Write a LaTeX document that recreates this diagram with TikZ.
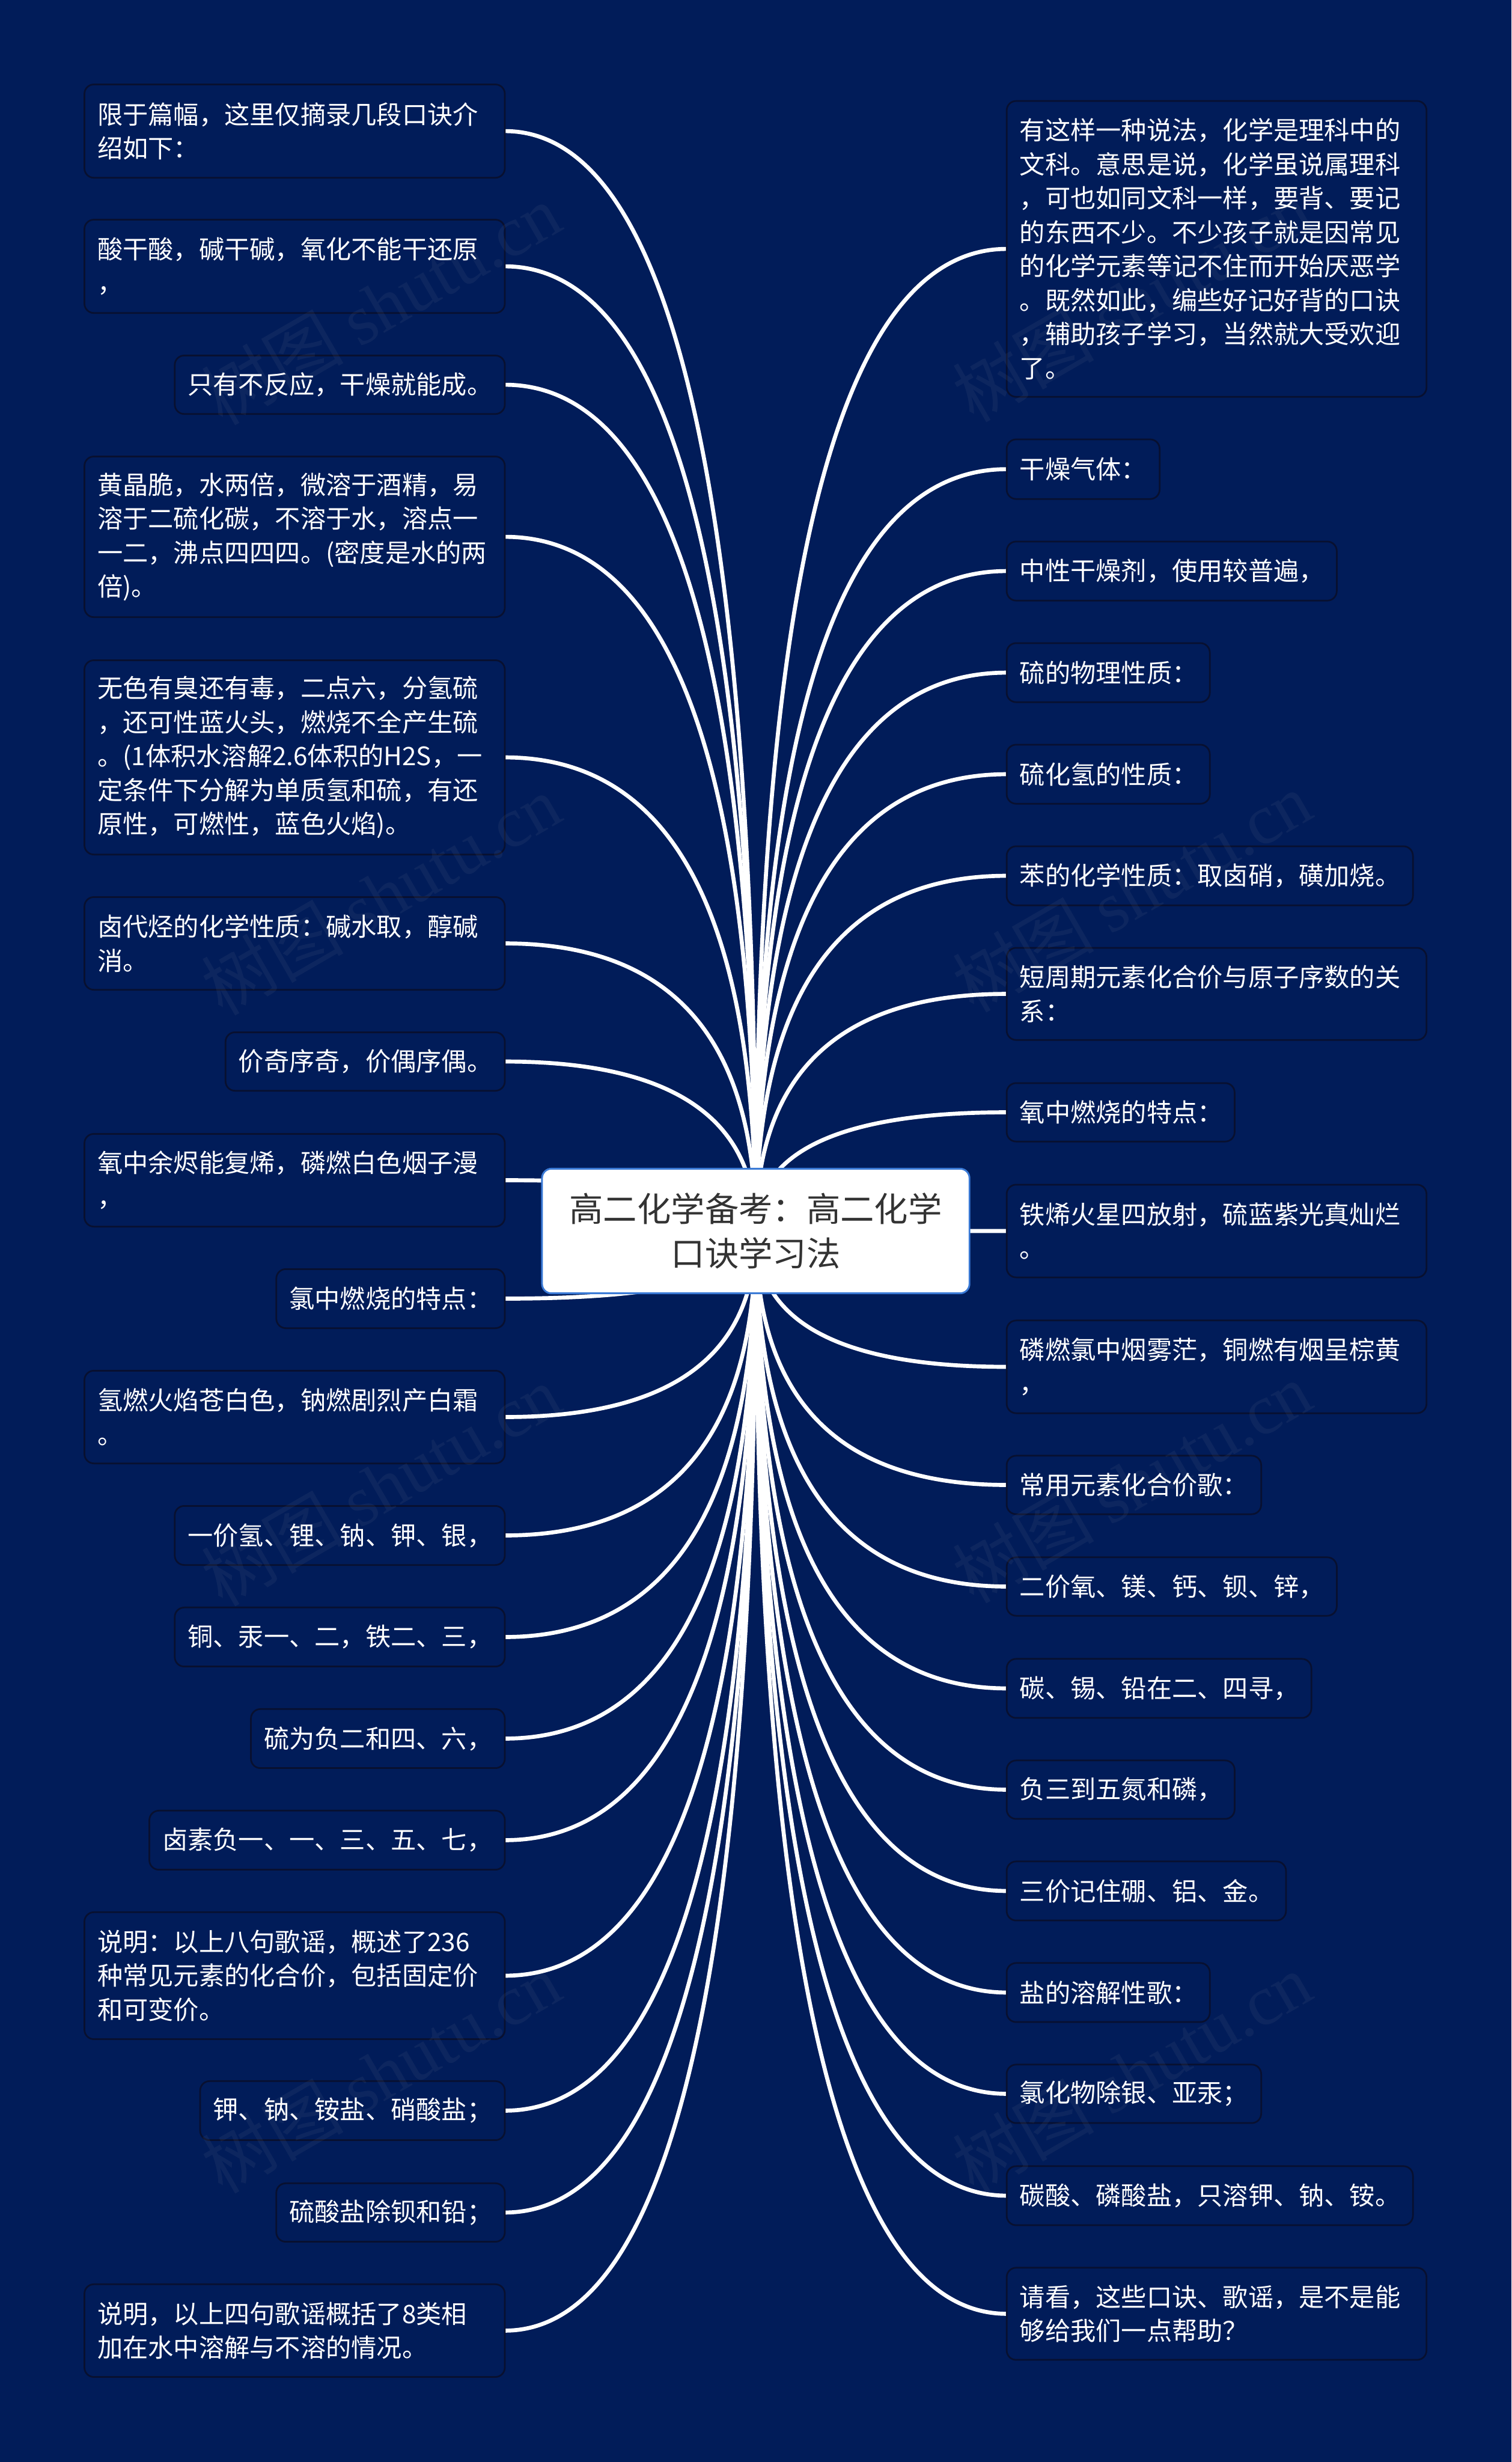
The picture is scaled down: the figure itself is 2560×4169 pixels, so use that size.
\documentclass[tikz,border=0pt]{standalone}
\usepackage{fontspec}
\setmainfont{Noto Sans CJK SC}
\newfontfamily\wmlatin{Liberation Serif}
\usetikzlibrary{calc,backgrounds}
\definecolor{bgblue}{HTML}{011C59}
\definecolor{edgedark}{HTML}{081030}
\definecolor{rootblue}{HTML}{3A7AD6}
\definecolor{roottext}{HTML}{333333}
\tikzset{
  leafbox/.style={draw=edgedark,line width=1.4pt,fill=bgblue,rounded corners=8pt,text=white,align=left,
    inner xsep=11pt,inner ysep=0pt,outer sep=0pt,font=\fontsize{21.5}{28.75}\selectfont},
  rootbox/.style={draw=rootblue,line width=1.5pt,fill=white,rounded corners=8pt,text=roottext,align=center,
    inner sep=0pt,outer sep=0pt,minimum width=362pt,minimum height=105.5pt,font=\fontsize{28.7}{37.5}\selectfont},
  conn/.style={draw=white,line width=3.4pt},
  mark text/.style={text=gray!50,opacity=.065,rotate=30,inner sep=0pt,font=\fontsize{60}{70}\selectfont}
}
\newcommand\leaf[6]{%
  \pgfmathsetlengthmacro\leafw{(#4-#2)*0.5pt-22pt}%
  \node[leafbox,text width=\leafw,minimum width={(#4-#2)*0.5pt},minimum height={(#5-#3)*0.5pt}]
    (#1) at ({(#2+#4)/2},{(#3+#5)/2}) {#6};}
\newcommand\linkroot[1]{%
  \draw[conn] (#1) .. controls ($(#1)!.667!(root |- #1)$) and ($(root.center)!.667!(root |- #1)$) .. (root.center);}
\begin{document}
\begin{tikzpicture}[x=0.5pt,y=-0.5pt]
\useasboundingbox (0,0) rectangle (2560,4169);
\node[rootbox] (root) at (1280,2084.5) {高二化学备考：高二化学\\口诀学习法};
% left column
\leaf{l1}{143}{143}{855}{301}{限于篇幅，这里仅摘录几段口诀介\\绍如下：}
\leaf{l2}{143}{372}{855}{530}{酸干酸，碱干碱，氧化不能干还原\\，}
\leaf{l3}{296}{602}{855}{701}{只有不反应，干燥就能成。}
\leaf{l4}{143}{773}{855}{1045}{黄晶脆，水两倍，微溶于酒精，易\\溶于二硫化碳，不溶于水，溶点一\\一二，沸点四四四。(密度是水的两\\倍)。}
\leaf{l5}{143}{1118}{855}{1447}{无色有臭还有毒，二点六，分氢硫\\，还可性蓝火头，燃烧不全产生硫\\。(1体积水溶解2.6体积的H2S，一\\定条件下分解为单质氢和硫，有还\\原性，可燃性，蓝色火焰)。}
\leaf{l6}{143}{1519}{855}{1676}{卤代烃的化学性质：碱水取，醇碱\\消。}
\leaf{l7}{382}{1748}{855}{1847}{价奇序奇，价偶序偶。}
\leaf{l8}{143}{1920}{855}{2077}{氧中余烬能复烯，磷燃白色烟子漫\\，}
\leaf{l9}{468}{2149}{855}{2249}{氯中燃烧的特点：}
\leaf{l10}{143}{2321}{855}{2478}{氢燃火焰苍白色，钠燃剧烈产白霜\\。}
\leaf{l11}{296}{2550}{855}{2650}{一价氢、锂、钠、钾、银，}
\leaf{l12}{296}{2722}{855}{2822}{铜、汞一、二，铁二、三，}
\leaf{l13}{425}{2894}{855}{2994}{硫为负二和四、六，}
\leaf{l14}{253}{3066}{855}{3166}{卤素负一、一、三、五、七，}
\leaf{l15}{143}{3238}{855}{3453}{说明：以上八句歌谣，概述了236\\种常见元素的化合价，包括固定价\\和可变价。}
\leaf{l16}{339}{3524}{855}{3624}{钾、钠、铵盐、硝酸盐；}
\leaf{l17}{468}{3697}{855}{3796}{硫酸盐除钡和铅；}
\leaf{l18}{143}{3868}{855}{4025}{说明，以上四句歌谣概括了8类相\\加在水中溶解与不溶的情况。}
% right column
\leaf{r1}{1705}{171}{2416}{672}{有这样一种说法，化学是理科中的\\文科。意思是说，化学虽说属理科\\，可也如同文科一样，要背、要记\\的东西不少。不少孩子就是因常见\\的化学元素等记不住而开始厌恶学\\。既然如此，编些好记好背的口诀\\，辅助孩子学习，当然就大受欢迎\\了。}
\leaf{r2}{1705}{744}{1964}{845}{干燥气体：}
\leaf{r3}{1705}{917}{2264}{1017}{中性干燥剂，使用较普遍，}
\leaf{r4}{1705}{1089}{2049}{1189}{硫的物理性质：}
\leaf{r5}{1705}{1261}{2049}{1361}{硫化氢的性质：}
\leaf{r6}{1705}{1433}{2393}{1533}{苯的化学性质：取卤硝，磺加烧。}
\leaf{r7}{1705}{1605}{2416}{1761}{短周期元素化合价与原子序数的关\\系：}
\leaf{r8}{1705}{1834}{2091}{1933}{氧中燃烧的特点：}
\leaf{r9}{1705}{2006}{2416}{2163}{铁烯火星四放射，硫蓝紫光真灿烂\\。}
\leaf{r10}{1705}{2236}{2416}{2393}{磷燃氯中烟雾茫，铜燃有烟呈棕黄\\，}
\leaf{r11}{1705}{2465}{2136}{2564}{常用元素化合价歌：}
\leaf{r12}{1705}{2637}{2264}{2736}{二价氧、镁、钙、钡、锌，}
\leaf{r13}{1705}{2809}{2221}{2909}{碳、锡、铅在二、四寻，}
\leaf{r14}{1705}{2981}{2091}{3080}{负三到五氮和磷，}
\leaf{r15}{1705}{3152}{2178}{3252}{三价记住硼、铝、金。}
\leaf{r16}{1705}{3324}{2049}{3424}{盐的溶解性歌：}
\leaf{r17}{1705}{3496}{2136}{3595}{氯化物除银、亚汞；}
\leaf{r18}{1705}{3668}{2393}{3768}{碳酸、磷酸盐，只溶钾、钠、铵。}
\leaf{r19}{1705}{3840}{2416}{3996}{请看，这些口诀、歌谣，是不是能\\够给我们一点帮助？}
\begin{pgfonlayer}{background}
  \fill[bgblue] (0,0) rectangle (2560,4169);
  \foreach \i in {1,...,18}{\linkroot{l\i.east}}
  \foreach \i in {1,...,19}{\linkroot{r\i.west}}
\end{pgfonlayer}
% faint watermarks
\foreach \n/\xx/\yy in {a/645/515,b/645/1515,c/645/2515,d/645/3510,e/1917/510,f/1917/1510,g/1917/2510,h/1917/3510}{
  \node[mark text] (wm\n) at (\xx,\yy) {树图 {\wmlatin shutu.cn}};
}
\end{tikzpicture}
\end{document}
